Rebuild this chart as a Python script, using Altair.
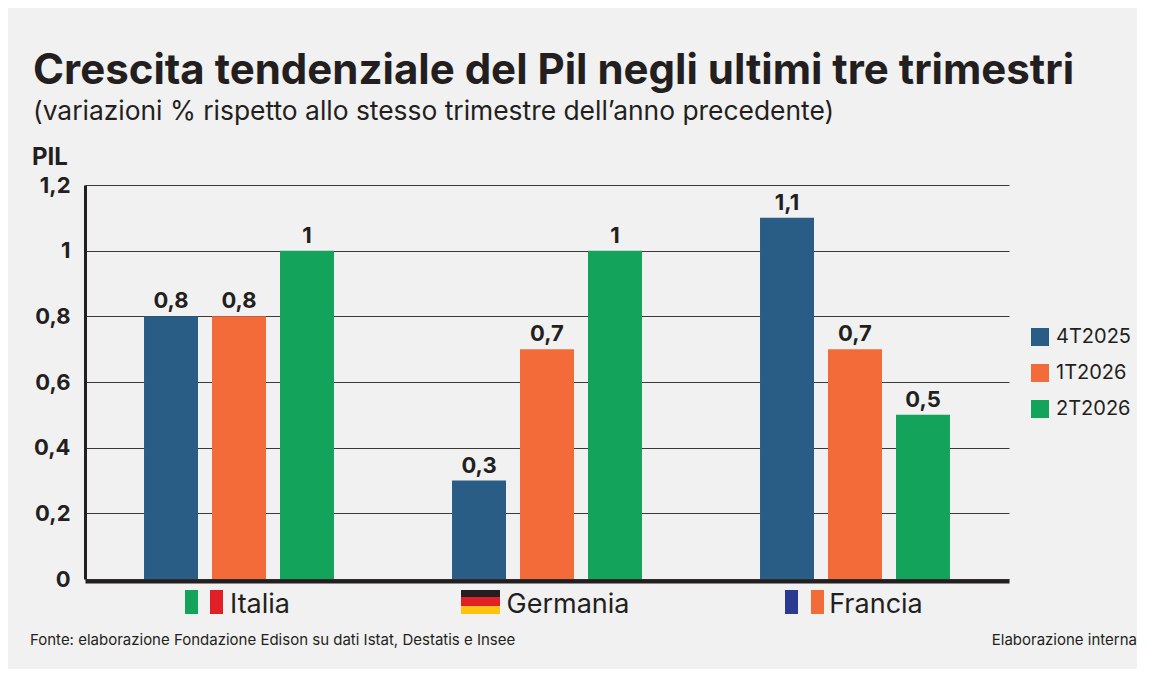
import pandas as pd
import altair as alt

# data
countries = ["Italia", "Germania", "Francia"]
series = ["4T2025", "1T2026", "2T2026"]
values_4t2025 = [0.8, 0.3, 1.1]
values_1t2026 = [0.8, 0.7, 0.7]
values_2t2026 = [1.0, 1.0, 0.5]
y_ticks = [0, 0.2, 0.4, 0.6, 0.8, 1.0, 1.2]

TITLE = "Crescita tendenziale del Pil negli ultimi tre trimestri"
SUBTITLE = "(variazioni % rispetto allo stesso trimestre dell\u2019anno precedente)"
SOURCE = "Fonte: elaborazione Fondazione Edison su dati Istat, Destatis e Insee"
CREDIT = "Elaborazione interna"

COLORS = ["#2a5d85", "#f26b38", "#14a35a"]
INK = "#231f20"
BG = "#f1f1f1"
FONT = "Inter"

W, H = 924, 394

# flag stripes drawn next to each country label:
# (country, colour, x0, x1 relative to band centre, y0, y1 in px from plot top)
FLAGS = [
    ("Italia", "#14a35a", -54, -41, 405, 429),
    ("Italia", "#e01f26", -29, -16, 405, 429),
    ("Germania", "#231f20", -86, -47, 405, 412),
    ("Germania", "#e01f26", -86, -47, 412, 421),
    ("Germania", "#fdc313", -86, -47, 421, 429),
    ("Francia", "#2b3990", -70, -57, 405, 429),
    ("Francia", "#f26b38", -44, -31, 405, 429),
]

rows = []
for s, vals in zip(series, [values_4t2025, values_1t2026, values_2t2026]):
    for c, v in zip(countries, vals):
        rows.append({"country": c, "series": s, "value": v})
df = pd.DataFrame(rows)
df_countries = pd.DataFrame({"country": countries})

comma = "replace(format({}, '~g'), '.', ',')"

x_enc = alt.X(
    "country:N",
    sort=countries,
    scale=alt.Scale(paddingInner=0, paddingOuter=0),
    axis=alt.Axis(labels=False, ticks=False, title=None, grid=False,
                  domainColor=INK, domainWidth=4, offset=2),
)
xoff_enc = alt.XOffset(
    "series:N", sort=series,
    scale=alt.Scale(paddingInner=0.206, paddingOuter=0.868),
)
y_enc = alt.Y(
    "value:Q",
    scale=alt.Scale(domain=[0, 1.2], nice=False),
    axis=alt.Axis(values=y_ticks, title=None, ticks=False,
                  labelExpr=comma.format("datum.value"),
                  labelFontSize=22, labelFontWeight="bold", labelColor=INK,
                  labelPadding=15, gridColor="#3a3a3a", gridWidth=1,
                  domainColor=INK, domainWidth=3),
)

base = alt.Chart(df).encode(x=x_enc, xOffset=xoff_enc, y=y_enc)

bars = base.mark_bar().encode(
    color=alt.Color(
        "series:N", sort=series,
        scale=alt.Scale(domain=series, range=COLORS),
        legend=alt.Legend(title=None, orient="none", legendX=945, legendY=142,
                          symbolType="square", symbolSize=324, symbolStrokeWidth=0,
                          labelFontSize=20, labelColor=INK, labelOffset=6,
                          rowPadding=16, padding=0),
    ),
)

values_text = base.transform_calculate(
    label=comma.format("datum.value")
).mark_text(baseline="alphabetic", dy=-8, fontSize=22, fontWeight="bold",
            color=INK).encode(text="label:N")

country_labels = alt.Chart(df_countries).mark_text(
    align="center", baseline="alphabetic", dx=21, fontSize=27, color=INK
).encode(x=alt.X("country:N", sort=countries), y=alt.value(428), text="country:N")

flag_layers = []
for country, colour, x0, x1, y0, y1 in FLAGS:
    flag_layers.append(
        alt.Chart(df_countries)
        .transform_filter(alt.datum.country == country)
        .mark_bar(width=x1 - x0, xOffset=(x0 + x1) / 2, color=colour)
        .encode(x=alt.X("country:N", sort=countries), y=alt.value(y0), y2=alt.value(y1))
    )

one = pd.DataFrame({"k": [0]})


def note(text, x, y, size, weight="normal", align="left"):
    return alt.Chart(one).mark_text(
        text=text, align=align, baseline="alphabetic", fontSize=size,
        fontWeight=weight, color=INK,
    ).encode(x=alt.value(x), y=alt.value(y))


texts = [
    note(TITLE, -52, -101, 42, "bold"),
    note(SUBTITLE, -52, -65, 26.4),
    note("PIL", -53, -20, 24, "bold"),
    note(SOURCE, -55, 460, 15),
    note(CREDIT, 1052, 460, 15, align="right"),
]

chart = (
    alt.layer(bars, values_text, country_labels, *flag_layers, *texts)
    .properties(
        width=W,
        height=H,
        background=BG,
        autosize=alt.AutoSizeParams(type="none"),
        padding={"left": 77, "top": 177, "right": 128, "bottom": 90},
    )
    .configure(font=FONT)
    .configure_view(strokeWidth=0)
)

chart.save("out.html", embed_options={"renderer": "svg", "actions": False})
